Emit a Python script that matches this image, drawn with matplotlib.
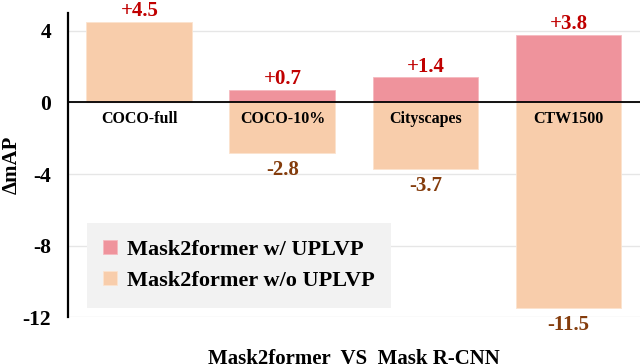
import numpy as np
import matplotlib
matplotlib.use("Agg")
import matplotlib.pyplot as plt

plt.rcParams['font.family'] = ['Liberation Serif', 'DejaVu Serif']
plt.rcParams['font.weight'] = 'bold'

datasets = ["COCO-full", "COCO-10%", "Cityscapes", "CTW1500"]
with_uplvp = [0.0, 0.7, 1.4, 3.8]
without_uplvp = [4.5, -2.8, -3.7, -11.5]
yticks = [4, 0, -4, -8, -12]

pink = "#EF939C"
peach = "#F8CDAB"
red = "#C00000"
brown = "#843C0C"

fig = plt.figure(figsize=(6.4, 3.64), dpi=100)
ax = fig.add_axes([0.106, 0.129, 0.894, 0.835])

x = np.arange(len(datasets))
w = 0.74
b2 = ax.bar(x, without_uplvp, w, color=peach, edgecolor="#FBE3CF", linewidth=0.6,
            label="Mask2former w/o UPLVP", zorder=2)
b1 = ax.bar(x, with_uplvp, w, color=pink, edgecolor="#F5B9BF", linewidth=0.6,
            label="Mask2former w/ UPLVP", zorder=2)

vsize = 15
# value labels
for xi, v in zip(x, with_uplvp):
    if v > 0:
        ax.annotate("+%.1f" % v, (xi, v), xytext=(0, 0.5), textcoords="offset points",
                    ha="center", va="bottom", color=red, fontsize=vsize, fontweight="bold")
for xi, v in zip(x, without_uplvp):
    if v > 0:
        ax.annotate("+%.1f" % v, (xi, v), xytext=(0, 0.5), textcoords="offset points",
                    ha="center", va="bottom", color=red, fontsize=vsize, fontweight="bold")
    else:
        ax.annotate("%.1f" % v, (xi, v), xytext=(0, -5), textcoords="offset points",
                    ha="center", va="top", color=brown, fontsize=vsize, fontweight="bold")

# dataset names under the zero line
for xi, name in zip(x, datasets):
    ax.text(xi, -0.45, name, ha="center", va="top", fontsize=11.5, fontweight="bold", zorder=4)

ax.axhline(0, color="black", linewidth=1.3, zorder=3)
ax.set_xlim(-0.5, 3.5)
ax.set_ylim(-12, 5.0)
ax.set_yticks(yticks)
ax.set_yticklabels([str(t) for t in yticks])
ax.tick_params(axis="y", length=0, pad=12, labelsize=15.5)
ax.set_xticks([])
ax.grid(axis="y", color="#E6E6E6", linewidth=1, zorder=0)
ax.set_axisbelow(True)
for s in ["top", "right", "bottom"]:
    ax.spines[s].set_visible(False)
ax.spines["left"].set_linewidth(1.6)

ax.set_ylabel("\u0394mAP", fontsize=15, fontweight="bold", labelpad=1)
ax.set_xlabel("Mask2former  VS  Mask R-CNN", fontsize=15, fontweight="bold", labelpad=23)

leg = ax.legend(handles=[b1, b2], loc="lower left", bbox_to_anchor=(0.033, 0.03),
                borderaxespad=0, fontsize=16, frameon=True, fancybox=False, handlelength=0.6,
                handleheight=0.6, handletextpad=0.45, labelspacing=0.5, borderpad=0.75)
leg.get_frame().set_facecolor("#F2F2F2")
leg.get_frame().set_edgecolor("none")
leg.get_frame().set_alpha(1)

fig.savefig("out.png", dpi=100)
